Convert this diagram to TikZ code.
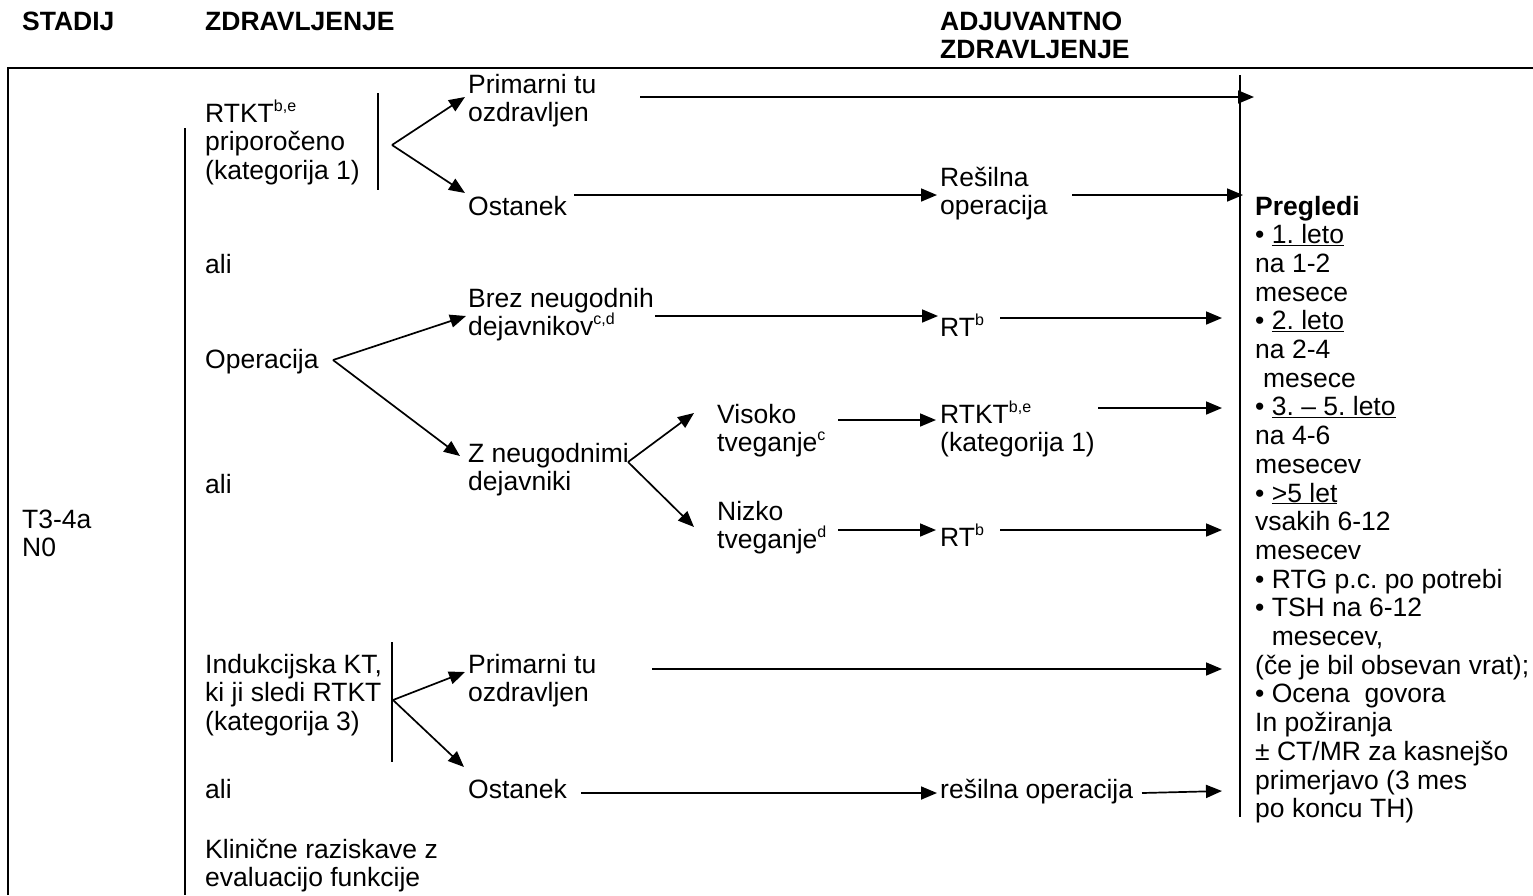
\documentclass[tikz,border=0pt]{standalone}
\usepackage{fontspec}
\setmainfont{Liberation Sans}
\usetikzlibrary{arrows.meta}
\frenchspacing
% multi-line text on a fixed line pitch; its baseline is that of its first line
\newcommand{\stack}[1]{\vtop{\lineskiplimit=-\maxdimen\lineskip=0pt
  \baselineskip=28.7pt\let\\=\cr\halign{##\hfil\cr#1\crcr}}}
% small raised footnote letters
\newcommand{\sups}[1]{\raise11pt\hbox{\fontsize{16}{16}\selectfont #1}}
\tikzset{
  txt/.style={anchor=base west, inner sep=0pt, font=\fontsize{26.5}{28.7}\selectfont},
  hdr/.style={txt, font=\fontsize{26.5}{28.7}\selectfont\bfseries},
  arr/.style={-{Triangle[length=16pt,width=13pt]}, line width=1.7pt},
  rule/.style={line width=1.7pt},
  thin/.style={line width=1.4pt},
}
\begin{document}
\begin{tikzpicture}[x=1pt,y=-1pt]
\useasboundingbox (0,0) rectangle (1533,895);

% column headings
\node[hdr] (hStage) at (22,30) {STADIJ};
\node[hdr] (hTreat) at (205,30) {ZDRAVLJENJE};
\node[hdr] (hAdj) at (940,30) {\stack{ADJUVANTNO\\ZDRAVLJENJE}};

% frame and separators
\draw[rule] (8,895) -- (8,68) -- (1533,68);
\draw[rule] (185,128) -- (185,895);
\draw[thin] (378,93) -- (378,190);
\draw[thin] (392,642) -- (392,762);
\draw[thin] (1240,75) -- (1240,817);

% stage
\node[txt] (stage) at (22,528) {\stack{T3-4a\\N0}};

% primary treatment
\node[txt] (rtkt) at (205,122) {\stack{RTKT\sups{b,e}\\priporočeno\\(kategorija 1)}};
\node[txt] (ali1) at (205,273) {ali};
\node[txt] (op) at (205,368) {Operacija};
\node[txt] (ali2) at (205,493) {ali};
\node[txt] (ind) at (205,673) {\stack{Indukcijska KT,\\ki ji sledi RTKT\\(kategorija 3)}};
\node[txt] (ali3) at (205,798) {ali};
\node[txt] (klin) at (205,858) {\stack{Klinične raziskave z\\evaluacijo funkcije}};

% outcomes
\node[txt] (cur1) at (468,93) {\stack{Primarni tu\\ozdravljen}};
\node[txt] (res1) at (468,215) {Ostanek};
\node[txt] (brez) at (468,307) {\stack{Brez neugodnih\\dejavnikov\sups{c,d}}};
\node[txt] (zneu) at (468,462) {\stack{Z neugodnimi\\dejavniki}};
\node[txt] (cur2) at (468,673) {\stack{Primarni tu\\ozdravljen}};
\node[txt] (res2) at (468,798) {Ostanek};

% risk groups
\node[txt] (high) at (717,423) {\stack{Visoko\\tveganje\sups{c}}};
\node[txt] (low) at (717,520) {\stack{Nizko\\tveganje\sups{d}}};

% adjuvant treatment
\node[txt] (sal1) at (940,186) {\stack{Rešilna\\operacija}};
\node[txt] (rt1) at (940,336) {RT\sups{b}};
\node[txt] (rtkt2) at (940,423) {\stack{RTKT\sups{b,e}\\(kategorija 1)}};
\node[txt] (rt2) at (940,546) {RT\sups{b}};
\node[txt] (sal2) at (940,798) {rešilna operacija};

% follow-up
\node[txt] (fu) at (1255,215) {\stack{\textbf{Pregledi}\\• \underline{1. leto}\\na 1-2\\mesece\\• \underline{2. leto}\\na 2-4\\\hspace{0.3em}mesece\\• \underline{3. – 5. leto}\\na 4-6\\mesecev\\• \underline{>5 let}\\vsakih 6-12\\mesecev\\• RTG p.c. po potrebi\\• TSH na 6-12\\\phantom{• }mesecev,\\(če je bil obsevan vrat);\\• Ocena\ \ govora\\In požiranja\\± CT/MR za kasnejšo\\primerjavo (3 mes\\po koncu TH)}};

% branch points and arrow ends
\coordinate (b1) at (392,145);
\coordinate (b2) at (333,360);
\coordinate (b3) at (628,462);
\coordinate (b4) at (393,700);

\coordinate (t1) at (465,97);
\coordinate (t2) at (465,193);
\coordinate (t3) at (466,316);
\coordinate (t4) at (460,456);
\coordinate (t5) at (694,413);
\coordinate (t6) at (694,527);
\coordinate (t7) at (465,672);
\coordinate (t8) at (464,767);

\coordinate (s1) at (640,97);    \coordinate (e1) at (1254,97);
\coordinate (s2) at (574,195);   \coordinate (e2) at (937,195);
\coordinate (s3) at (1072,195);  \coordinate (e3) at (1243,195);
\coordinate (s4) at (655,316);   \coordinate (e4) at (938,316);
\coordinate (s5) at (1000,318);  \coordinate (e5) at (1222,318);
\coordinate (s6) at (838,420);   \coordinate (e6) at (936,420);
\coordinate (s7) at (1098,408);  \coordinate (e7) at (1222,408);
\coordinate (s8) at (838,530);   \coordinate (e8) at (936,530);
\coordinate (s9) at (1000,530);  \coordinate (e9) at (1222,530);
\coordinate (s10) at (652,669);  \coordinate (e10) at (1222,669);
\coordinate (s11) at (581,793);  \coordinate (e11) at (937,793);
\coordinate (s12) at (1142,793); \coordinate (e12) at (1222,791);

% branching arrows
\draw[arr] (b1) -- (t1);
\draw[arr] (b1) -- (t2);
\draw[arr] (b2) -- (t3);
\draw[arr] (b2) -- (t4);
\draw[arr] (b3) -- (t5);
\draw[arr] (b3) -- (t6);
\draw[arr] (b4) -- (t7);
\draw[arr] (b4) -- (t8);

% horizontal arrows
\foreach \i in {1,...,12} \draw[arr] (s\i) -- (e\i);
\end{tikzpicture}
\end{document}
